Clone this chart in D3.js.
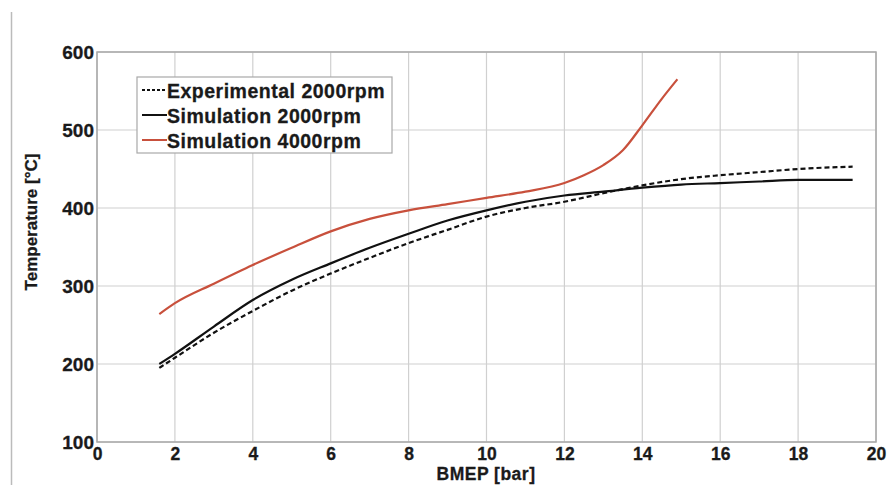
<!DOCTYPE html>
<html>
<head>
<meta charset="utf-8">
<script src="https://cdn.jsdelivr.net/npm/d3@7"></script>
<style>
  body { margin: 0; background: #fff; }
  svg { display: block; font-family: Arial, "Liberation Sans", sans-serif; }
  .tick text { font-weight: bold; fill: #1a1a1a; stroke: #1a1a1a; stroke-width: 0.3; }
  .label { font-weight: bold; fill: #1a1a1a; stroke: #1a1a1a; stroke-width: 0.3; }
</style>
</head>
<body>
<svg id="chart" width="889" height="485"></svg>
<script>
const bmep = [1.6, 2, 3, 4, 5, 6, 7, 8, 9, 10, 11, 12, 13, 14, 15, 16, 17, 18, 19.4]
const expT2000 = [195, 208, 240, 268, 294, 316, 336, 355, 372, 389, 400, 408, 419, 429, 437, 442, 446, 450, 453]
const simT2000 = [200, 213, 248, 282, 308, 329, 349, 367, 384, 397, 408, 416, 421, 426, 430, 432, 434, 436, 436]

const bmep4000 = [1.6, 2, 3, 4, 5, 6, 7, 8, 9, 10, 11, 12, 12.5, 13, 13.5, 14, 14.5, 14.9]
const simT4000 = [264, 278, 303, 327, 349, 370, 386, 397, 405, 413, 421, 432, 442, 455, 474, 506, 540, 565]

const xTicks = [0, 2, 4, 6, 8, 10, 12, 14, 16, 18, 20]
const yTicks = [100, 200, 300, 400, 500, 600]

const series = [
  { name: 'Experimental 2000rpm', x: bmep, y: expT2000, color: '#111', dash: '5,3' },
  { name: 'Simulation 2000rpm', x: bmep, y: simT2000, color: '#111', dash: null },
  { name: 'Simulation 4000rpm', x: bmep4000, y: simT4000, color: '#c8503c', dash: null },
]

const svg = d3.select('#chart')
const PLOT_L = 97, PLOT_R = 876, PLOT_T = 52, PLOT_B = 442

const scaleX = d3.scaleLinear().domain([0, 20]).range([PLOT_L, PLOT_R])
const scaleY = d3.scaleLinear().domain([100, 600]).range([PLOT_B, PLOT_T])

// stray border line from the scanned figure
svg.append('line')
  .attr('x1', 11.5).attr('x2', 11.5).attr('y1', 12).attr('y2', 485)
  .style('stroke', '#bbb').style('stroke-width', 1.5)

// grid
const grid = svg.append('g').attr('class', 'grid')
grid.selectAll('line.vx').data(xTicks).join('line').attr('class', 'vx')
  .attr('x1', scaleX).attr('x2', scaleX).attr('y1', PLOT_T).attr('y2', PLOT_B)
  .style('stroke', '#d0d0d0').style('stroke-width', 1.2)
grid.selectAll('line.hy').data(yTicks).join('line').attr('class', 'hy')
  .attr('x1', PLOT_L).attr('x2', PLOT_R).attr('y1', scaleY).attr('y2', scaleY)
  .style('stroke', '#d0d0d0').style('stroke-width', 1.2)

svg.append('rect')
  .attr('x', PLOT_L).attr('y', PLOT_T).attr('width', PLOT_R - PLOT_L).attr('height', PLOT_B - PLOT_T)
  .style('fill', 'none').style('stroke', '#a8a8a8').style('stroke-width', 1.5)

// axes
const axisX = d3.axisBottom(scaleX).tickValues(xTicks).tickSize(0).tickPadding(6)
const axisY = d3.axisLeft(scaleY).tickValues(yTicks).tickSize(0).tickPadding(3)
const gx = svg.append('g').attr('transform', `translate(0,${PLOT_B})`).call(axisX)
const gy = svg.append('g').attr('transform', `translate(${PLOT_L},0)`).call(axisY)
gx.select('.domain').remove()
gy.select('.domain').remove()
gx.selectAll('.tick text').style('font-size', '17.5px')
gy.selectAll('.tick text').style('font-size', '19px')

svg.append('text').text('BMEP [bar]').attr('class', 'label')
  .attr('x', 486).attr('y', 480)
  .attr('text-anchor', 'middle')
  .style('font-size', '17.5px')
  .style('letter-spacing', '0.5px')
svg.append('text').text('Temperature [°C]').attr('class', 'label')
  .attr('transform', 'translate(37,222) rotate(-90)')
  .attr('text-anchor', 'middle')
  .style('font-size', '17px')

// lines
const line = d3.line().x(d => scaleX(d[0])).y(d => scaleY(d[1])).curve(d3.curveMonotoneX)
svg.append('g').selectAll('path').data(series).join('path')
  .attr('d', s => line(s.x.map((v, i) => [v, s.y[i]])))
  .style('fill', 'none')
  .style('stroke', s => s.color)
  .style('stroke-width', 2.2)
  .style('stroke-dasharray', s => s.dash)

// legend
const lg = svg.append('g').attr('transform', 'translate(137,77)')
lg.append('rect').attr('width', 255).attr('height', 76)
  .style('fill', '#fff').style('stroke', '#a8a8a8').style('stroke-width', 1.2)
series.forEach((s, i) => {
  const cy = 13 + i * 25
  lg.append('line').attr('x1', 5).attr('x2', 30).attr('y1', cy).attr('y2', cy)
    .style('stroke', s.color).style('stroke-width', 2)
    .style('stroke-dasharray', s.dash ? '3,2' : null)
  lg.append('text').text(s.name).attr('class', 'label')
    .attr('x', 30).attr('y', cy + 8)
    .style('font-size', '19.5px')
    .style('letter-spacing', '0.5px')
})
</script>
</body>
</html>
